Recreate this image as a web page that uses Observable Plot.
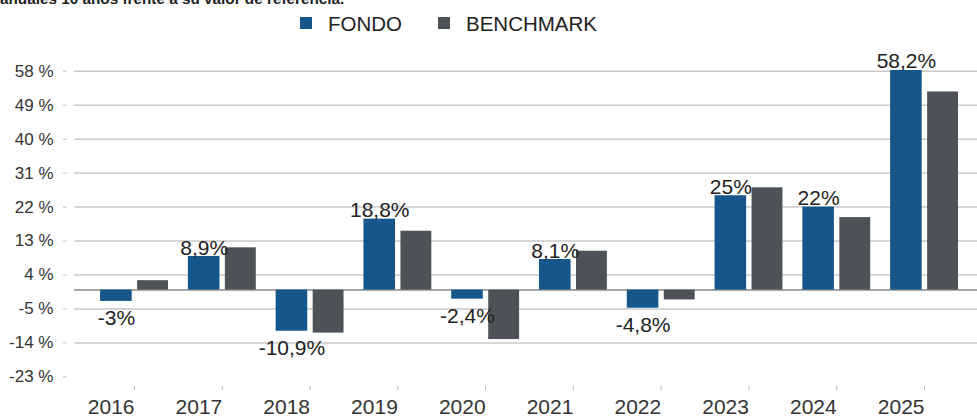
<!DOCTYPE html>
<html>
<head>
<meta charset="utf-8">
<script src="https://cdn.jsdelivr.net/npm/d3@7"></script>
<script src="https://cdn.jsdelivr.net/npm/@observablehq/plot@0.6"></script>
<style>
  html, body { margin: 0; padding: 0; background: #fff; }
  body { width: 977px; height: 417px; overflow: hidden; position: relative; font-family: "Liberation Sans", Arial, sans-serif; }
  #title { position: absolute; top: -9px; white-space: nowrap; font-weight: bold; font-size: 15.3px; line-height: 15px; color: #222; }
  .leg { position: absolute; top: 12px; font-size: 20.5px; line-height: 24px; color: #222; white-space: nowrap; }
  .leg .sw { position: absolute; left: 0; top: 4.5px; width: 12px; height: 12px; }
  .leg .lb { position: absolute; left: 28px; top: 0; }
  #chart { position: absolute; left: 0; top: 0; }
</style>
</head>
<body>
<div id="chart"></div>
<div id="title"><span id="tpre">Rentabilidades </span><span>anuales 10 años frente a su valor de referencia.</span></div>
<div id="legend"></div>
<script>
// ---- data ----
const years = ["2016", "2017", "2018", "2019", "2020", "2021", "2022", "2023", "2024", "2025"];
const seriesNames = ["FONDO", "BENCHMARK"];
const fondo = [-3, 8.9, -10.9, 18.8, -2.4, 8.1, -4.8, 25, 22, 58.2];
const benchmark = [2.5, 11.2, -11.4, 15.6, -13.1, 10.3, -2.6, 27.1, 19.2, 52.5];
const yTicks = [58, 49, 40, 31, 22, 13, 4, -5, -14, -23];
const colors = ["#15578a", "#4d5258"];

// ---- table built from the arrays ----
const fondoRows = years.map((y, i) => ({year: y, series: seriesNames[0], value: fondo[i]}));
const benchRows = years.map((y, i) => ({year: y, series: seriesNames[1], value: benchmark[i]}));
const fmt = v => String(v).replace(".", ",") + "%";

const yMin = d3.min(yTicks), yMax = d3.max(yTicks);

const chart = Plot.plot({
  width: 977,
  height: 417,
  marginLeft: 67,
  marginRight: 0,
  marginTop: 60,
  marginBottom: 40,
  style: {fontFamily: "Liberation Sans, Arial, sans-serif", background: "#fff", overflow: "visible"},
  x: {type: "band", domain: years, range: [90.1, 967.9], padding: 0, round: false, axis: null},
  y: {domain: [yMin, yMax], range: [376.4, 70.7], axis: null},
  marks: [
    Plot.ruleY(yTicks.filter(t => t > yMin), {stroke: "#c8c8c8", strokeWidth: 1.5, insetLeft: 7}),
    Plot.ruleY([0], {stroke: "#8a8a8a", strokeWidth: 1.5, insetLeft: 7}),
    Plot.barY(fondoRows, {x: "year", y: "value", fill: colors[0], insetLeft: 10, insetRight: 46.2}),
    Plot.barY(benchRows, {x: "year", y: "value", fill: colors[1], insetLeft: 47, insetRight: 9.9}),
    Plot.text(fondoRows.filter(d => d.value >= 0), {x: "year", y: "value", text: d => fmt(d.value), dx: -18.1, dy: -2, lineAnchor: "bottom", fontSize: 21, fill: "#222"}),
    Plot.text(fondoRows.filter(d => d.value < 0), {x: "year", y: "value", text: d => fmt(d.value), dx: -18.1, dy: 9, lineAnchor: "top", fontSize: 21, fill: "#222"}),
    Plot.axisY(yTicks, {tickSize: 4, tickPadding: 10, stroke: "#c0c0c0", fill: "#333", fontSize: 17, tickFormat: d => `${d} %`, label: null}),
    Plot.axisX({tickSize: 5, tickPadding: 8, dy: 8.6, stroke: "#bbb", fill: "#333", fontSize: 21, textAnchor: "end", label: null})
  ]
});
document.getElementById("chart").appendChild(chart);

// legend
const legend = document.getElementById("legend");
const legLeft = [300, 438];
seriesNames.forEach((name, i) => {
  const item = document.createElement("div");
  item.className = "leg";
  item.style.left = legLeft[i] + "px";
  item.innerHTML = `<span class="sw" style="background:${colors[i]}"></span><span class="lb">${name}</span>`;
  legend.appendChild(item);
});

// title: its start lies off the left edge as in the reference
const pre = document.getElementById("tpre");
document.getElementById("title").style.left = (-pre.getBoundingClientRect().width) + "px";
</script>
</body>
</html>
